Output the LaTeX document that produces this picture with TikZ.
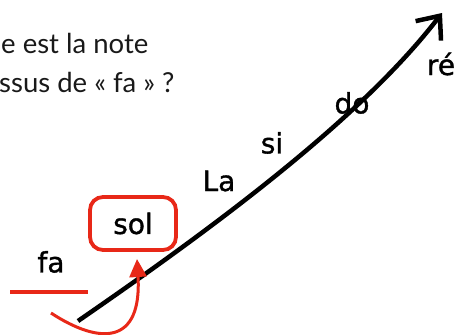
\documentclass[tikz,border=0pt]{standalone}
\usepackage{fontspec}
\setmainfont{Lato}
\newfontfamily\hand[FakeBold=1.2]{DejaVu Sans}
\usetikzlibrary{arrows.meta}
\definecolor{redmark}{RGB}{232,40,24}
\begin{document}
\begin{tikzpicture}[x=1pt,y=-1pt,
  question/.style={anchor=base west,inner sep=0pt,text=black!90,font=\fontsize{27.5}{32}\selectfont},
  note/.style={inner sep=0pt,font=\hand\fontsize{28}{32}\selectfont},
  notebox/.style={draw=redmark,line width=3.8pt,rounded corners=13pt,minimum width=86pt,minimum height=53pt,inner sep=0pt,font=\hand\fontsize{28}{32}\selectfont}]
\useasboundingbox (0,0) rectangle (461,335);
\node[question] (q1) at (1,53) {e est la note};
\node[question] (q2) at (-1,92) {ssus de « fa » ?};
% scale line
\coordinate (s) at (78,321);
\coordinate (e) at (442,13);
\draw[line width=4.5pt,-{Straight Barb[length=19pt,width=32pt]}] (s) .. controls (210,230) and (360,120) .. (e);
% labels
\node[note] (fa) at (51,262) {fa};
\node[note] (la) at (219,181) {La};
\node[note] (si) at (272,143) {si};
\node[note] (do) at (352,103) {do};
\node[note] (re) at (441,64) {ré};
\node[notebox] (sol) at (133,223.5) {sol};
% red marks
\coordinate (ul1) at (10,292);
\coordinate (ul2) at (88,292);
\draw[redmark,line width=4pt] (ul1) -- (ul2);
\coordinate (rs) at (51,313);
\coordinate (rt) at (137,259);
\draw[redmark,line width=3pt,-{Triangle[length=18pt,width=17pt]}] (rs) .. controls (100,345) and (142,345) .. (rt);
\end{tikzpicture}
\end{document}
